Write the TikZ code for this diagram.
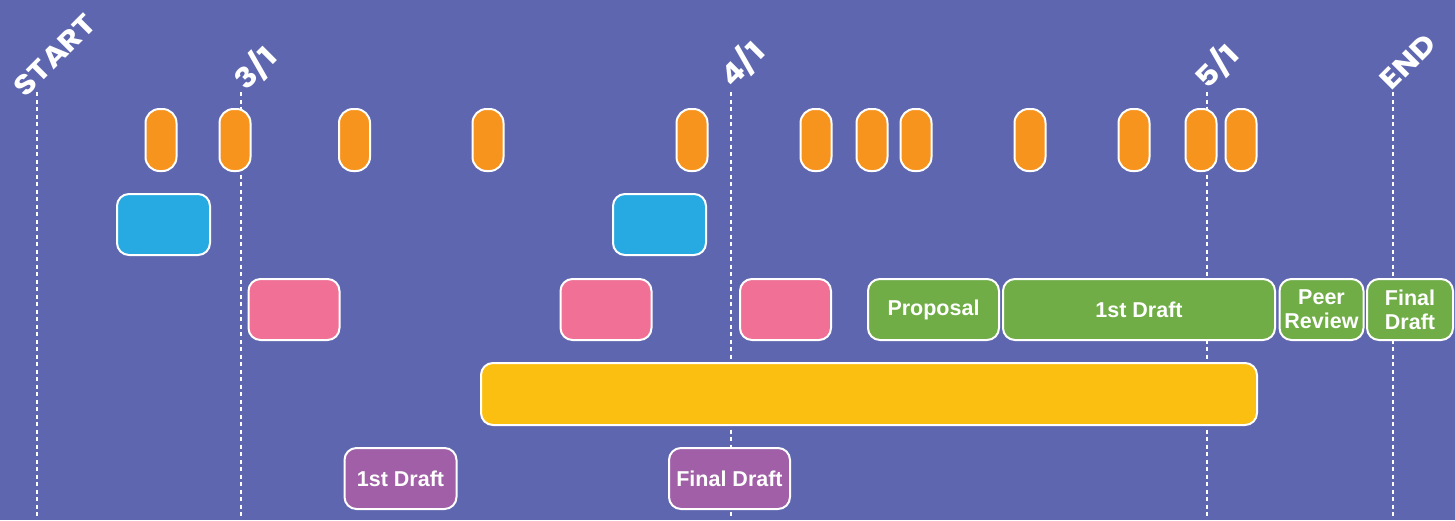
\documentclass[tikz,border=0pt]{standalone}
\usepackage{fontspec}
\setmainfont{Liberation Sans}
\newfontfamily\labelfont{Poppins}
\definecolor{bgblue}{HTML}{5D66AF}
\definecolor{pillorange}{HTML}{F7941D}
\definecolor{skyblue}{HTML}{27AAE1}
\definecolor{rosepink}{HTML}{F07096}
\definecolor{leafgreen}{HTML}{70AD47}
\definecolor{sunyellow}{HTML}{FBBF12}
\definecolor{plum}{HTML}{A05FA6}
\tikzset{
  block/.style={rectangle, rounded corners=12pt, draw=white, line width=2pt,
    inner sep=0pt, text=white, align=center,
    font=\bfseries\fontsize{21.5}{24}\selectfont},
  pill/.style={block, fill=pillorange, rounded corners=14pt,
    minimum width=31pt, minimum height=62pt},
  meeting/.style={block, fill=skyblue, minimum width=93pt, minimum height=61pt},
  review/.style={block, fill=rosepink, minimum width=91pt, minimum height=61pt},
  stage/.style={block, fill=leafgreen, minimum height=61pt},
  span/.style={block, fill=sunyellow, minimum height=62pt},
  draft/.style={block, fill=plum, minimum height=61pt},
  milestone/.style={draw=white, line width=2pt, dash pattern=on 4pt off 3.5pt},
  datelabel/.style={text=white, rotate=45, inner sep=0pt,
    font=\labelfont\bfseries\fontsize{28}{28}\selectfont}
}
\begin{document}
\begin{tikzpicture}[x=1pt, y=-1pt]
  % canvas
  \fill[bgblue] (0,0) rectangle (1455,520);
  \useasboundingbox (0,0) rectangle (1455,520);

  % milestone guides
  \foreach \name/\xx in {start/37, mar/241, apr/731, may/1207, end/1393} {
    \coordinate (\name-top) at (\xx,92);
    \coordinate (\name-bot) at (\xx,520);
    \draw[milestone] (\name-top) -- (\name-bot);
  }

  % milestone labels
  \node[datelabel] (lbl-start) at (55,55) {\scalebox{1.15}[1]{START}};
  \node[datelabel] (lbl-mar) at (255,68) {\scalebox{1.15}[1]{3/1}};
  \node[datelabel] (lbl-apr) at (742,64) {\scalebox{1.15}[1]{4/1}};
  \node[datelabel] (lbl-may) at (1217,66) {\scalebox{1.15}[1]{5/1}};
  \node[datelabel] (lbl-end) at (1408,62) {\scalebox{1.15}[1]{END}};

  % orange markers
  \foreach \i/\xx in {1/161, 2/235, 3/354.5, 4/488, 5/692, 6/816,
                      7/872, 8/916, 9/1030, 10/1134, 11/1201, 12/1241} {
    \node[pill] (tick\i) at (\xx,140) {};
  }

  % blue blocks
  \node[meeting] (meet1) at (163.5,224.5) {};
  \node[meeting] (meet2) at (659.5,224.5) {};

  % pink blocks
  \node[review] (rev1) at (294,309.5) {};
  \node[review] (rev2) at (606,309.5) {};
  \node[review] (rev3) at (785.5,309.5) {};

  % green stages
  \node[stage, minimum width=131pt] (proposal) at (933.5,309.5) {Proposal};
  \node[stage, minimum width=272pt] (firstdraft) at (1139,309.5) {1st Draft};
  \node[stage, minimum width=84pt] (peer) at (1321.5,309.5) {Peer\\Review};
  \node[stage, minimum width=86pt] (finaldraft) at (1410,309.5) {Final\\Draft};

  % yellow span
  \node[span, minimum width=776pt] (project) at (869,394) {};

  % purple drafts
  \node[draft, minimum width=112pt] (draft1) at (400.5,478.5) {1st Draft};
  \node[draft, minimum width=121pt] (draft2) at (729.5,478.5) {Final Draft};
\end{tikzpicture}
\end{document}
